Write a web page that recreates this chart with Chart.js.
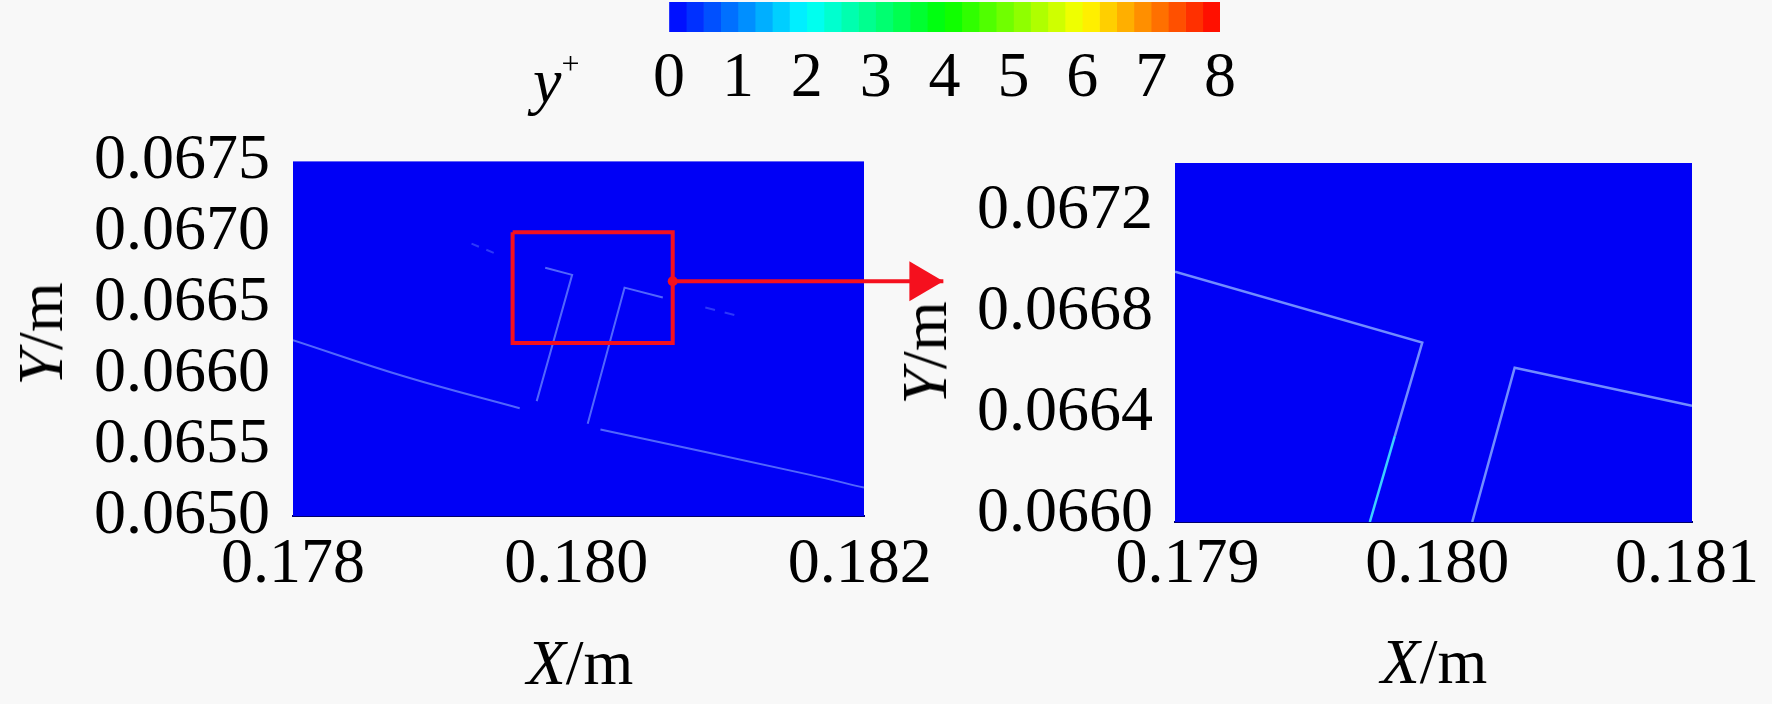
<!DOCTYPE html>
<html>
<head>
<meta charset="utf-8">
<script src="https://cdn.jsdelivr.net/npm/chart.js@4.4.1/dist/chart.umd.min.js"></script>
<style>
  html, body { margin: 0; padding: 0; background: #f8f8f8; }
  #page { position: relative; width: 1772px; height: 704px; overflow: hidden;
          font-family: "Liberation Serif", "Times New Roman", serif; color: #000; }
  canvas { position: absolute; }
  .lbl { position: absolute; font-size: 64px; line-height: 64px; white-space: nowrap;
         transform: translate(-50%, -50%); }
  .rot { transform: translate(-50%, -50%) rotate(-90deg); }
</style>
</head>
<body>
<div id="page">
  <canvas id="cbar" width="720" height="130" style="left:580px;top:0"></canvas>
  <canvas id="leftChart" width="960" height="560" style="left:0;top:100px"></canvas>
  <canvas id="rightChart" width="812" height="560" style="left:960px;top:100px"></canvas>

  <div style="position:absolute;left:533px;top:49px;font-size:64px;line-height:64px;white-space:nowrap"><i>y</i><sup style="font-size:32px;line-height:0;vertical-align:baseline;position:relative;top:-28px">+</sup></div>
  <div class="lbl rot" style="left:41px;top:334px"><i>Y</i>/m</div>
  <div class="lbl" style="left:580px;top:663px"><i>X</i>/m</div>
  <div class="lbl rot" style="left:925px;top:353px"><i>Y</i>/m</div>
  <div class="lbl" style="left:1434px;top:662px"><i>X</i>/m</div>
</div>

<script>
// ---- colour bar (y+) ----
const cbTicks = [0, 1, 2, 3, 4, 5, 6, 7, 8];
const cbLevels = [0, 0.25, 0.5, 0.75, 1, 1.25, 1.5, 1.75, 2, 2.25, 2.5, 2.75, 3, 3.25, 3.5, 3.75,
                  4, 4.25, 4.5, 4.75, 5, 5.25, 5.5, 5.75, 6, 6.25, 6.5, 6.75, 7, 7.25, 7.5, 7.75, 8];

// ---- left panel (full view) ----
const leftXTicks = [0.178, 0.180, 0.182];
const leftYTicks = [0.0650, 0.0655, 0.0660, 0.0665, 0.0670, 0.0675];
// wall traces (x, y in m)
const leftLowerX = [0.17800, 0.17880, 0.17960];
const leftLowerY = [0.06624, 0.06598, 0.06576];
const leftTipFaintX = [0.17926, 0.17943];
const leftTipFaintY = [0.06692, 0.06685];
const leftBladeX = [0.17978, 0.17997, 0.17972];
const leftBladeY = [0.06675, 0.06670, 0.06581];
const leftGapX = [0.18008, 0.18034, 0.18061];
const leftGapY = [0.06565, 0.06661, 0.06654];
const leftGapFaintX = [0.18091, 0.18118];
const leftGapFaintY = [0.06647, 0.06640];
const leftBottomX = [0.18017, 0.18165, 0.18203];
const leftBottomY = [0.06561, 0.06529, 0.06520];
// zoom window and arrow
const boxX = [0.17955, 0.18068, 0.18068, 0.17955, 0.17955];
const boxY = [0.06700, 0.06700, 0.06622, 0.06622, 0.06700];
const arrowX = [0.18068, 0.18259];
const arrowY = [0.066655, 0.066655];

// ---- right panel (zoomed view) ----
const rightXTicks = [0.179, 0.180, 0.181];
const rightYTicks = [0.0660, 0.0664, 0.0668, 0.0672];
const rightUpperX = [0.17895, 0.17994, 0.17983, 0.17973];
const rightUpperY = [0.06696, 0.06668, 0.06631, 0.06597];
const rightLowerX = [0.18014, 0.18031, 0.18102];
const rightLowerY = [0.06597, 0.06658, 0.06643];

const RED = '#f5101e';
const FIELD = '#0000f6';
const WALL = 'rgba(115,145,255,0.7)';
const WALL_FAINT = 'rgba(110,140,255,0.4)';

Chart.defaults.font.family = '"Liberation Serif", "Times New Roman", serif';
Chart.defaults.font.size = 64;
Chart.defaults.color = '#000';
Chart.defaults.animation = false;

function pts(xs, ys) {
    return xs.map((x, i) => ({ x: x, y: ys[i] }));
}

function axis(min, max, ticks, digits, padding, size, isY) {
    return {
        type: 'linear',
        min: min,
        max: max,
        grid: { display: false, drawTicks: false },
        border: isY ? { display: false } : { display: true, color: '#00006a', width: 2 },
        ticks: { padding: padding, maxRotation: 0, autoSkip: false, callback: v => v.toFixed(digits) },
        afterBuildTicks: s => { s.ticks = ticks.map(v => ({ value: v })); },
        afterFit: s => { if (isY) s.width = size; else s.height = size; }
    };
}

function wall(xs, ys, color, width, dash, tension) {
    return {
        data: pts(xs, ys),
        showLine: true,
        borderColor: color,
        borderWidth: width,
        borderDash: dash || [],
        tension: tension || 0,
        pointRadius: 0
    };
}

// blue contour field behind the wall traces
const fieldBg = {
    id: 'fieldBg',
    beforeDatasetsDraw(chart) {
        const a = chart.chartArea;
        const ctx = chart.ctx;
        ctx.save();
        ctx.fillStyle = FIELD;
        ctx.fillRect(a.left, a.top, a.right - a.left, a.bottom - a.top);
        ctx.restore();
    }
};

// arrow head at the end of the arrow dataset
const arrowHead = {
    id: 'arrowHead',
    afterDatasetsDraw(chart) {
        const ctx = chart.ctx;
        const tx = chart.scales.x.getPixelForValue(arrowX[arrowX.length - 1]);
        const ty = chart.scales.y.getPixelForValue(arrowY[arrowY.length - 1]);
        ctx.save();
        ctx.fillStyle = RED;
        ctx.beginPath();
        ctx.moveTo(tx, ty);
        ctx.lineTo(tx - 34, ty - 20);
        ctx.lineTo(tx - 34, ty + 20);
        ctx.closePath();
        ctx.fill();
        ctx.restore();
    }
};

// 1. colour bar
const stops = [[0, [0, 0, 255]], [2, [0, 255, 255]], [4, [0, 255, 0]], [6, [255, 255, 0]], [8, [255, 0, 0]]];
function bandColor(v) {
    for (let i = 0; i < stops.length - 1; i++) {
        const [a, ca] = stops[i];
        const [b, cb] = stops[i + 1];
        if (v <= b) {
            const t = (v - a) / (b - a);
            const c = ca.map((k, j) => Math.round(k + (cb[j] - k) * t));
            return 'rgb(' + c.join(',') + ')';
        }
    }
    return 'rgb(255,0,0)';
}

new Chart(document.getElementById('cbar'), {
    type: 'bar',
    data: {
        labels: [''],
        datasets: cbLevels.slice(0, -1).map((lo, i) => ({
            data: [[lo, cbLevels[i + 1]]],
            backgroundColor: bandColor((lo + cbLevels[i + 1]) / 2),
            borderWidth: 0,
            barPercentage: 1,
            categoryPercentage: 1,
            grouped: false
        }))
    },
    options: {
        responsive: false,
        indexAxis: 'y',
        layout: { padding: { left: 89, right: 80, top: 2, bottom: 0 } },
        plugins: { legend: { display: false }, tooltip: { enabled: false } },
        scales: {
            x: {
                type: 'linear', min: 0, max: 8, z: 1,
                grid: {
                    display: true, drawTicks: false, lineWidth: 1,
                    color: c => (c.tick && c.tick.value >= 2 && c.tick.value <= 7) ? 'rgba(30,30,30,0.55)' : 'rgba(0,0,0,0)'
                },
                border: { display: false },
                ticks: { padding: 9, maxRotation: 0, autoSkip: false },
                afterBuildTicks: s => { s.ticks = cbTicks.map(v => ({ value: v })); },
                afterFit: s => { s.height = 98; }
            },
            y: { display: false }
        }
    }
});

// 2. left panel
new Chart(document.getElementById('leftChart'), {
    type: 'scatter',
    data: {
        datasets: [
            { data: pts(boxX, boxY), showLine: true, borderColor: RED, borderWidth: 4, pointRadius: 0 },
            { data: pts(arrowX, arrowY), showLine: true, borderColor: RED, borderWidth: 4,
              pointRadius: [5, 0], pointBackgroundColor: RED, pointBorderWidth: 0, clip: false },
            wall(leftLowerX, leftLowerY, WALL, 2, null, 0.4),
            wall(leftTipFaintX, leftTipFaintY, WALL_FAINT, 2, [8, 8]),
            wall(leftBladeX, leftBladeY, WALL, 2),
            wall(leftGapX, leftGapY, WALL, 2),
            wall(leftGapFaintX, leftGapFaintY, WALL_FAINT, 2, [10, 10]),
            wall(leftBottomX, leftBottomY, WALL, 2, null, 0.4)
        ]
    },
    options: {
        responsive: false,
        layout: { padding: { left: 0, top: 58, right: 96, bottom: 0 } },
        plugins: { legend: { display: false }, tooltip: { enabled: false } },
        scales: {
            x: axis(0.178, 0.18203, leftXTicks, 3, 11, 144, false),
            y: axis(0.0650, 0.0675, leftYTicks, 4, 23, 293, true)
        }
    },
    plugins: [fieldBg, arrowHead]
});

// 3. right panel
const rightUpper = wall(rightUpperX, rightUpperY, 'rgba(125,155,255,0.9)', 2.5);
rightUpper.segment = { borderColor: c => c.p0DataIndex === 2 ? '#3ccfff' : undefined };

new Chart(document.getElementById('rightChart'), {
    type: 'scatter',
    data: {
        datasets: [
            rightUpper,
            wall(rightLowerX, rightLowerY, 'rgba(125,155,255,0.9)', 2.5)
        ]
    },
    options: {
        responsive: false,
        layout: { padding: { left: 0, top: 63, right: 80, bottom: 0 } },
        plugins: { legend: { display: false }, tooltip: { enabled: false } },
        scales: {
            x: axis(0.17895, 0.18102, rightXTicks, 3, 5, 138, false),
            y: axis(0.06597, 0.06739, rightYTicks, 4, 22, 215, true)
        }
    },
    plugins: [fieldBg]
});
</script>
</body>
</html>
